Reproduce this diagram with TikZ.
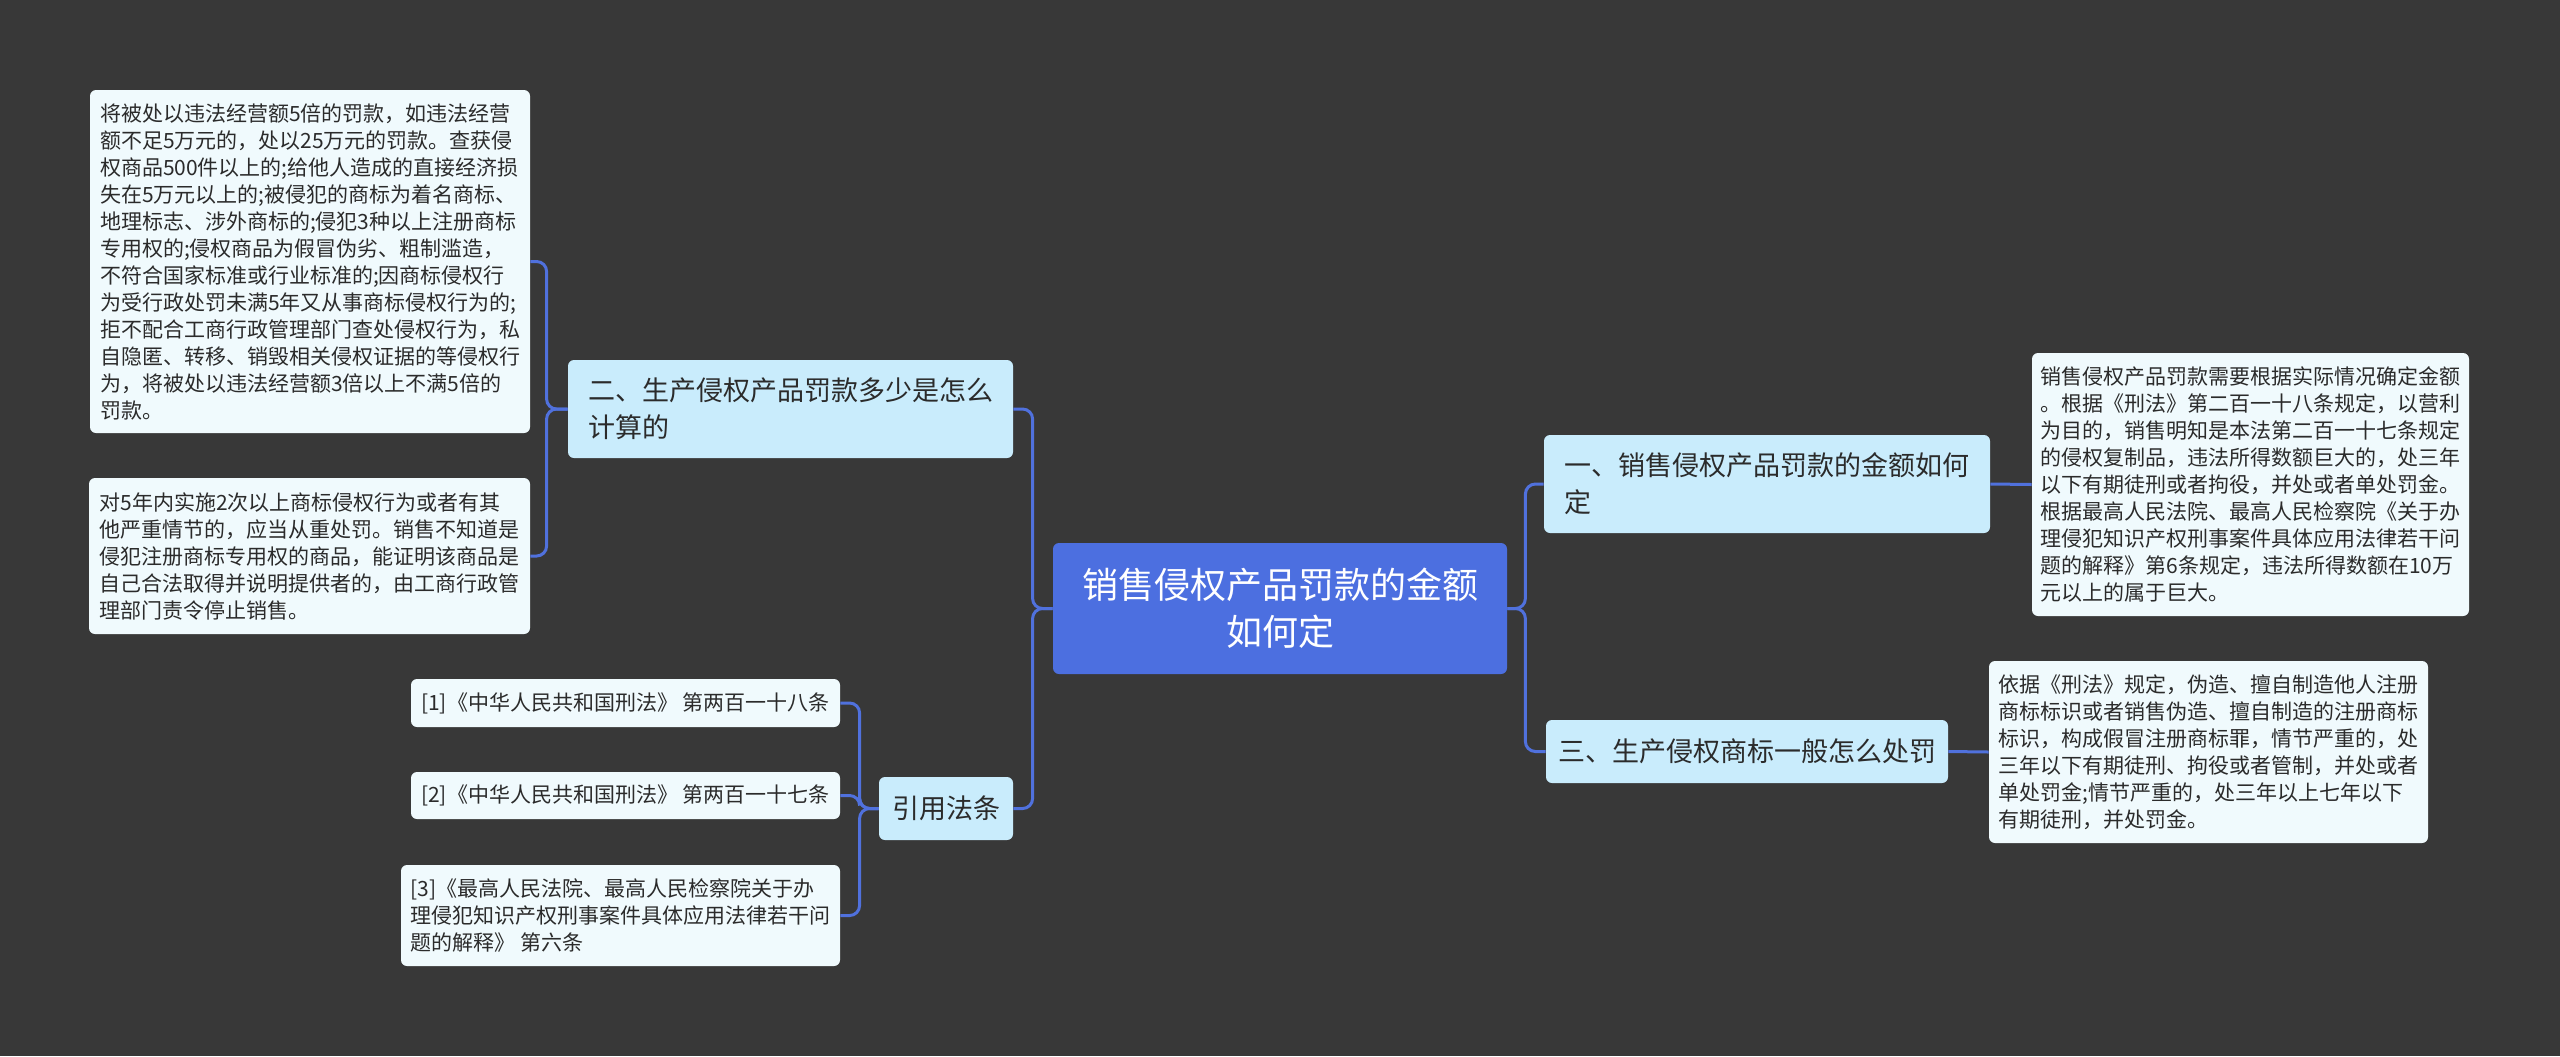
\documentclass[tikz,border=0pt]{standalone}
\usepackage{fontspec}
\setmainfont{Noto Sans CJK SC}
\usepackage{tikz}
\usetikzlibrary{positioning}
\definecolor{Map_Bg}{HTML}{383838}
\definecolor{Map_Root}{HTML}{4C6FE0}
\definecolor{Map_Topic}{HTML}{C9ECFC}
\definecolor{Map_Leaf}{HTML}{F0FAFD}
\definecolor{Map_Line}{HTML}{5071DD}
\definecolor{Map_Text}{HTML}{2B2B2B}

\begin{document}
\begin{tikzpicture}[x=0.5pt, y=-0.5pt,
  every node/.style={inner sep=0pt, rounded corners=3pt},
  root/.style={fill=Map_Root, text=white, font=\fontsize{18}{23.5}\selectfont, align=center},
  topic/.style={fill=Map_Topic, text=Map_Text, font=\fontsize{13.5}{18.5}\selectfont, align=left},
  leaf/.style={fill=Map_Leaf, text=Map_Text, font=\fontsize{10.5}{13.5}\selectfont, align=left},
  link/.style={draw=Map_Line, line width=1.5pt, rounded corners=5pt}
]
  % Background
  \fill[Map_Bg] (0,0) rectangle (2560,1056);

  % Root
  \node[root, minimum width=227pt, minimum height=65.5pt] (root) at (1280,608.5)
    {销售侵权产品罚款的金额\\如何定};

  % Left side
  \node[topic, minimum width=222.5pt, minimum height=49pt] (prod) at (790.5,409)
    {二、生产侵权产品罚款多少是怎么\\计算的};
  \node[leaf, minimum width=220pt, minimum height=171.5pt] (prodA) at (310,261.5)
    {将被处以违法经营额5倍的罚款，如违法经营\\
     额不足5万元的，处以25万元的罚款。查获侵\\
     权商品500件以上的;给他人造成的直接经济损\\
     失在5万元以上的;被侵犯的商标为着名商标、\\
     地理标志、涉外商标的;侵犯3种以上注册商标\\
     专用权的;侵权商品为假冒伪劣、粗制滥造，\\
     不符合国家标准或行业标准的;因商标侵权行\\
     为受行政处罚未满5年又从事商标侵权行为的;\\
     拒不配合工商行政管理部门查处侵权行为，私\\
     自隐匿、转移、销毁相关侵权证据的等侵权行\\
     为，将被处以违法经营额3倍以上不满5倍的\\
     罚款。};
  \node[leaf, minimum width=220.5pt, minimum height=78pt] (prodB) at (309.5,556)
    {对5年内实施2次以上商标侵权行为或者有其\\
     他严重情节的，应当从重处罚。销售不知道是\\
     侵犯注册商标专用权的商品，能证明该商品是\\
     自己合法取得并说明提供者的，由工商行政管\\
     理部门责令停止销售。};

  \node[topic, minimum width=67pt, minimum height=31.5pt] (cite) at (946,808.5) {引用法条};
  \node[leaf, minimum width=214.5pt, minimum height=24pt] (citeA) at (625.5,703)
    {[1]《中华人民共和国刑法》 第两百一十八条};
  \node[leaf, minimum width=214.5pt, minimum height=23.5pt] (citeB) at (625.5,795.5)
    {[2]《中华人民共和国刑法》 第两百一十七条};
  \node[leaf, minimum width=219.5pt, minimum height=50.5pt] (citeC) at (620.5,915.5)
    {[3]《最高人民法院、最高人民检察院关于办\\
     理侵犯知识产权刑事案件具体应用法律若干问\\
     题的解释》 第六条};

  % Right side
  \node[topic, minimum width=223pt, minimum height=49pt] (sale) at (1767,484)
    {一、销售侵权产品罚款的金额如何\\定};
  \node[leaf, minimum width=218.5pt, minimum height=131.5pt] (saleA) at (2250.5,484.5)
    {销售侵权产品罚款需要根据实际情况确定金额\\
     。根据《刑法》第二百一十八条规定，以营利\\
     为目的，销售明知是本法第二百一十七条规定\\
     的侵权复制品，违法所得数额巨大的，处三年\\
     以下有期徒刑或者拘役，并处或者单处罚金。\\
     根据最高人民法院、最高人民检察院《关于办\\
     理侵犯知识产权刑事案件具体应用法律若干问\\
     题的解释》第6条规定，违法所得数额在10万\\
     元以上的属于巨大。};

  \node[topic, minimum width=201pt, minimum height=31.5pt] (mark) at (1747,751.5)
    {三、生产侵权商标一般怎么处罚};
  \node[leaf, minimum width=219.5pt, minimum height=91pt] (markA) at (2208.5,752)
    {依据《刑法》规定，伪造、擅自制造他人注册\\
     商标标识或者销售伪造、擅自制造的注册商标\\
     标识，构成假冒注册商标罪，情节严重的，处\\
     三年以下有期徒刑、拘役或者管制，并处或者\\
     单处罚金;情节严重的，处三年以上七年以下\\
     有期徒刑，并处罚金。};

  % Links from root
  \draw[link] (root.west) -- ++(-20,0) |- (prod.east);
  \draw[link] (root.west) -- ++(-20,0) |- (cite.east);
  \draw[link] (root.east) -- ++(18,0) |- (sale.west);
  \draw[link] (root.east) -- ++(18,0) |- (mark.west);
  % Links to leaves
  \draw[link] (prod.west) -- ++(-21,0) |- (prodA.east);
  \draw[link] (prod.west) -- ++(-21,0) |- (prodB.east);
  \draw[link] (cite.west) -- ++(-19,0) |- (citeA.east);
  \draw[link] (cite.west) -- ++(-19,0) |- (citeB.east);
  \draw[link] (cite.west) -- ++(-19,0) |- (citeC.east);
  \draw[link] (sale.east) -- (saleA.west);
  \draw[link] (mark.east) -- (markA.west);
\end{tikzpicture}
\end{document}
